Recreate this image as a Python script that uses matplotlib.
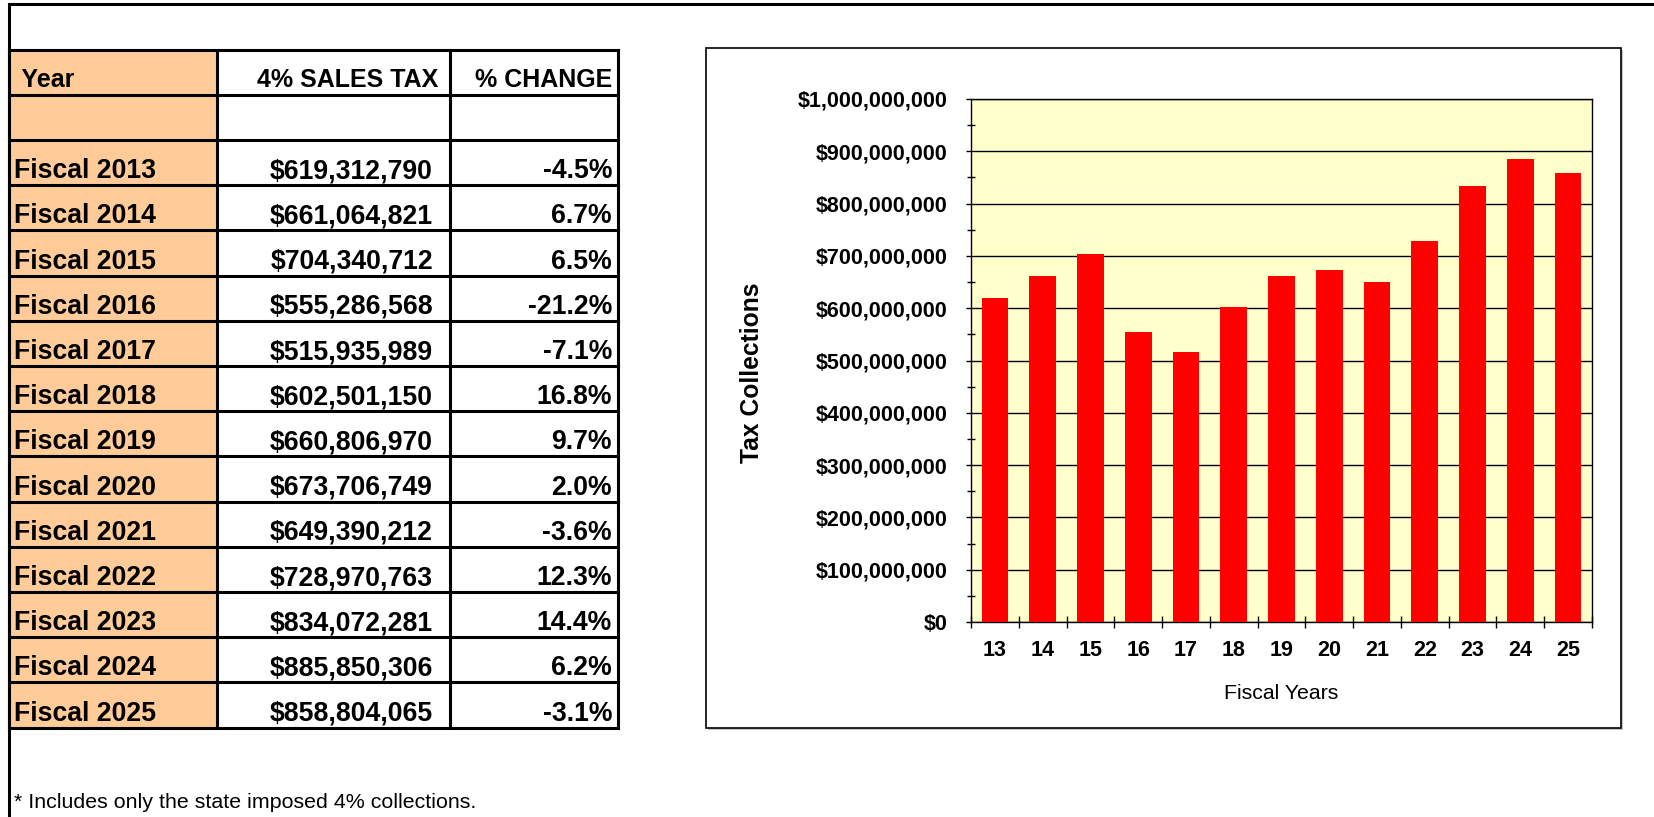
import numpy as np
import matplotlib
matplotlib.use('Agg')
import matplotlib.pyplot as plt
from matplotlib.patches import Rectangle

years = [2013, 2014, 2015, 2016, 2017, 2018, 2019, 2020, 2021, 2022, 2023, 2024, 2025]
sales_tax = [619312790, 661064821, 704340712, 555286568, 515935989, 602501150, 660806970,
             673706749, 649390212, 728970763, 834072281, 885850306, 858804065]
pct_change = [-4.5, 6.7, 6.5, -21.2, -7.1, 16.8, 9.7, 2.0, -3.6, 12.3, 14.4, 6.2, -3.1]
year_labels = ['Fiscal %d' % y for y in years]
x_labels = ['13', '14', '15', '16', '17', '18', '19', '20', '21', '22', '23', '24', '25']
header = [' Year', '4% SALES TAX', '% CHANGE']
y_ticks = [0, 100000000, 200000000, 300000000, 400000000, 500000000,
           600000000, 700000000, 800000000, 900000000, 1000000000]

plt.rcParams['font.family'] = ['Liberation Sans', 'DejaVu Sans']

W, H = 1654, 817
fig = plt.figure(figsize=(W / 100, H / 100), dpi=100)

# background axes in pixel coords for the table / frame
bg = fig.add_axes([0, 0, 1, 1])
bg.set_xlim(0, W)
bg.set_ylim(H, 0)
bg.axis('off')

# outer frame (left + top)
bg.plot([9, 9], [4, H], color='black', lw=2.2)
bg.plot([9, W], [4, 4], color='black', lw=2.2)

# table grid
col_x = [9, 217, 450, 618]
row_h = 45.2
row_y = [50, 95, 140] + [140 + row_h * (i + 1) for i in range(len(years))]
bg.add_patch(Rectangle((col_x[0], row_y[0]), col_x[1] - col_x[0], row_y[-1] - row_y[0],
                       facecolor='#FFCC99', edgecolor='none', zorder=1))
for y in row_y:
    bg.plot([col_x[0], col_x[-1]], [y, y], color='black', lw=2.2, zorder=2,
            solid_capstyle='projecting')
for x in col_x:
    bg.plot([x, x], [row_y[0], row_y[-1]], color='black', lw=2.2, zorder=2,
            solid_capstyle='projecting')

# header text
bg.text(15, 87, header[0], fontsize=18, fontweight='bold', ha='left', va='baseline')
bg.text(438, 87, header[1], fontsize=18, fontweight='bold', ha='right', va='baseline')
bg.text(612, 87, header[2], fontsize=18, fontweight='bold', ha='right', va='baseline')

# rows
for i in range(len(years)):
    base = row_y[i + 3] - 7
    bg.text(14, base, year_labels[i], fontsize=19.2, fontweight='bold', ha='left', va='baseline')
    bg.text(433, base, '${:,}'.format(sales_tax[i]), fontsize=19.2, fontweight='bold',
            ha='right', va='baseline')
    bg.text(612, base, '%.1f%%' % pct_change[i], fontsize=19.2, fontweight='bold',
            ha='right', va='baseline')

bg.text(14, 802, '* Includes only the state imposed 4% collections.', fontsize=15.4,
        ha='left', va='center')

# chart box with a faint shadow
bg.add_patch(Rectangle((708, 50), 915, 680, facecolor='#C8C8C8', edgecolor='none', zorder=1))
bg.add_patch(Rectangle((706, 48), 915, 680, facecolor='white', edgecolor='black', lw=1.2, zorder=1))

# the chart
ax = fig.add_axes([971 / W, 1 - 622 / H, 621 / W, 523 / H])
ax.set_facecolor('#FFFFCC')
ax.bar(range(len(sales_tax)), sales_tax, width=0.56, color='#FF0000', zorder=3)
ax.set_xlim(-0.5, len(sales_tax) - 0.5)
ax.set_ylim(0, 1000000000)

ax.set_yticks(y_ticks)
ax.set_yticklabels(['${:,}'.format(v) for v in y_ticks], fontweight='bold')
ax.set_yticks(np.arange(50000000, 1000000000, 100000000), minor=True)
ax.grid(axis='y', which='major', color='black', lw=1)
ax.set_axisbelow(True)
ax.tick_params(axis='y', which='major', direction='out', length=3.6, width=1, pad=13, labelsize=15.5)
ax.tick_params(axis='y', which='minor', direction='inout', length=6, width=1)

ax.set_xticks(range(len(x_labels)))
ax.set_xticklabels(x_labels, fontweight='bold')
ax.set_xticks(np.arange(-0.5, len(x_labels)), minor=True)
ax.tick_params(axis='x', which='major', length=0, pad=13, labelsize=15.5)
ax.tick_params(axis='x', which='minor', direction='inout', length=9, width=1)

for s in ax.spines.values():
    s.set_color('black')
    s.set_linewidth(1)

ax.text(0.5, -0.136, 'Fiscal Years', transform=ax.transAxes, fontsize=15.3,
        ha='center', va='center')
ax.text(-0.353, 0.476, 'Tax Collections', transform=ax.transAxes, fontsize=17.7,
        fontweight='bold', rotation=90, ha='center', va='center')

fig.savefig('out.png', dpi=100)
